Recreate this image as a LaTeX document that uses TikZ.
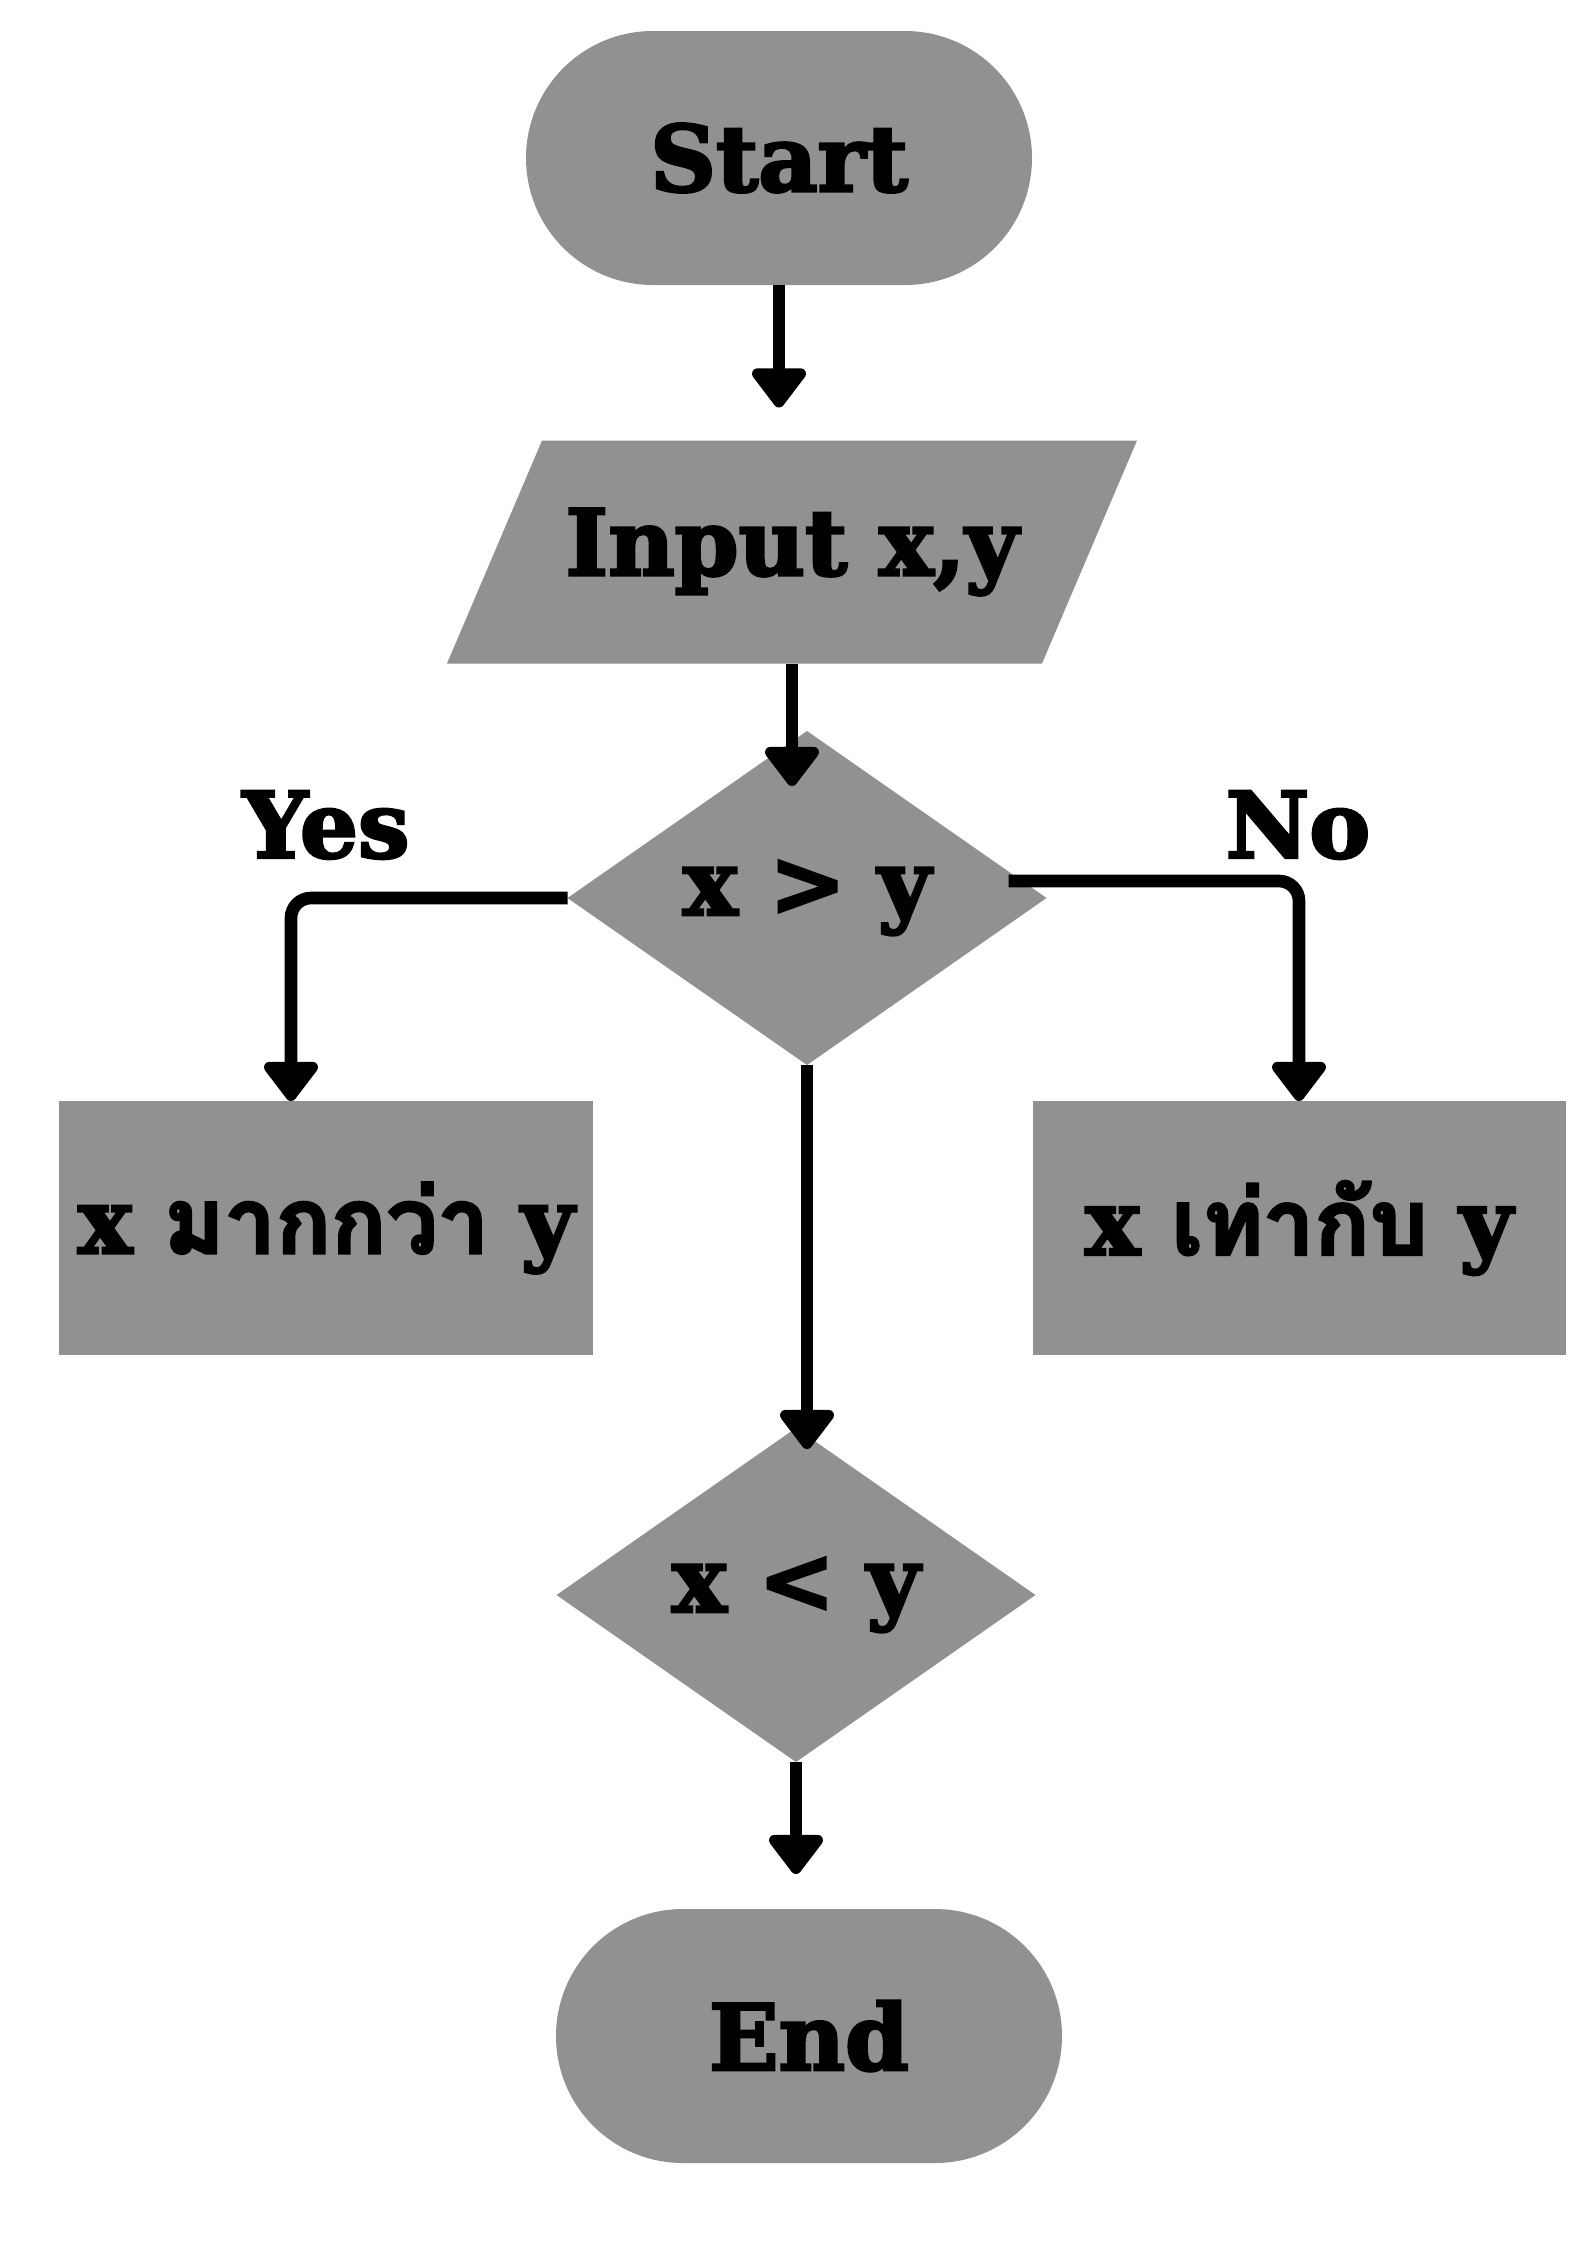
\documentclass[tikz,border=0pt]{standalone}
\usepackage{fontspec}
\setmainfont{DejaVu Serif}[BoldFeatures={FakeBold=3}]
\newfontfamily\thaifont[Script=Thai,BoldFeatures={FakeBold=3}]{Loma}
\usepackage{tikz}
\usetikzlibrary{shapes,arrows.meta,backgrounds}
\definecolor{boxgray}{RGB}{145,145,145}
\tikzstyle{shapebase}=[fill=boxgray,inner sep=0pt,outer sep=0pt,font=\fontsize{26}{30}\selectfont\bfseries]
\tikzstyle{terminal}=[shapebase,rectangle,rounded corners=1.27cm,minimum width=5.06cm,minimum height=2.54cm]
\tikzstyle{io}=[shapebase,fill=none,rectangle,minimum width=5.95cm,minimum height=2.23cm]
\tikzstyle{slanted}=[fill=boxgray]
\tikzstyle{decision}=[shapebase,diamond,minimum width=4.79cm,minimum height=3.34cm]
\tikzstyle{process}=[shapebase,rectangle,minimum width=5.33cm,minimum height=2.54cm]
\tikzstyle{branch}=[font=\fontsize{26}{30}\selectfont\bfseries]
\tikzstyle{flow}=[line width=3.6pt,-{Triangle[width=0.62cm,length=0.43cm,round]},rounded corners=0.2cm]

\begin{document}
\begin{tikzpicture}
    \useasboundingbox (0,0) rectangle (15.87,-22.45);
    \node[terminal] (start) at (7.79,-1.58) {Start};
    \node[io] (input) at (7.92,-5.52) {Input x,y};
    \begin{scope}[on background layer]
        \fill[slanted] ([xshift=0.475cm]input.north west) -- ([xshift=0.475cm]input.north east)
            -- ([xshift=-0.475cm]input.south east) -- ([xshift=-0.475cm]input.south west) -- cycle;
    \end{scope}
    \node[decision] (gt) at (8.07,-8.98) {x > y};
    \node[process] (gtbox) at (3.26,-12.28) {x {\thaifont มากกว่า} y};
    \node[process] (eqbox) at (12.99,-12.28) {x {\thaifont เท่ากับ} y};
    \node[decision] (lt) at (7.96,-15.95) {x < y};
    \node[terminal] (end) at (8.09,-20.36) {End};
    \node[branch] (yes) at (3.26,-8.25) {Yes};
    \node[branch] (no) at (12.98,-8.25) {No};
    % arrows
    \draw[flow,shorten >=0.33cm] (start) -- (start.south |- input.north);
    \draw[flow,shorten >=-0.55cm] (input) -- (input.south |- gt.north);
    \draw[flow] (gt.west) -| ([xshift=-0.35cm]gtbox.north);
    \draw[flow] ([shift={(-0.38,0.17)}]gt.east) -| (eqbox.north);
    \draw[flow,shorten >=-0.21cm] (gt.south) -- (gt.south |- lt.north);
    \draw[flow,shorten >=0.35cm] (lt.south) -- (lt.south |- end.north);
\end{tikzpicture}
\end{document}
